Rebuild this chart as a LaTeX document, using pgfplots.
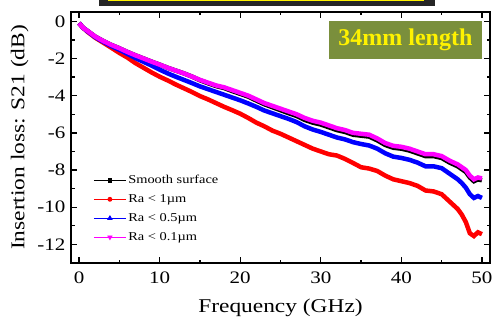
\documentclass[border=0pt]{standalone}
\usepackage{fontspec}
\setmainfont{Liberation Serif}[FakeStretch=1.2]
\newfontfamily\boxfont{Liberation Serif}
\usepackage{pgfplots}
\usepackage{pgfplotstable}
\pgfplotsset{compat=1.18}
\usetikzlibrary{calc}
\definecolor{boxgreen}{HTML}{7A8F3C}
\definecolor{darkbox}{HTML}{262626}
\definecolor{mag}{HTML}{FF00FF}

\pgfplotstableread{
f s r b m
0 -0.10 -0.10 -0.10 -0.10
0.5 -0.35 -0.35 -0.35 -0.35
1 -0.50 -0.55 -0.52 -0.50
2 -0.82 -0.88 -0.85 -0.82
3 -1.06 -1.15 -1.10 -1.06
4 -1.27 -1.42 -1.33 -1.27
5 -1.45 -1.70 -1.53 -1.45
6 -1.65 -1.95 -1.75 -1.65
7 -1.83 -2.25 -1.98 -1.83
8 -2.00 -2.50 -2.18 -2.00
9 -2.17 -2.75 -2.38 -2.17
10 -2.33 -2.98 -2.60 -2.33
11 -2.50 -3.18 -2.80 -2.50
12 -2.65 -3.40 -2.98 -2.65
13 -2.80 -3.60 -3.15 -2.80
14 -2.97 -3.80 -3.32 -2.97
15 -3.17 -4.02 -3.50 -3.15
16 -3.33 -4.20 -3.65 -3.30
17 -3.48 -4.40 -3.80 -3.45
18 -3.59 -4.60 -3.95 -3.55
19 -3.75 -4.78 -4.10 -3.70
20 -3.90 -4.97 -4.25 -3.85
21 -4.05 -5.20 -4.42 -4.00
22 -4.26 -5.45 -4.60 -4.20
23 -4.46 -5.65 -4.80 -4.40
24 -4.62 -5.88 -4.95 -4.55
25 -4.78 -6.05 -5.10 -4.70
26 -4.94 -6.25 -5.25 -4.85
27 -5.09 -6.45 -5.42 -5.00
28 -5.30 -6.65 -5.65 -5.20
29 -5.45 -6.85 -5.82 -5.35
30 -5.55 -7.00 -5.95 -5.45
31 -5.70 -7.15 -6.10 -5.60
32 -5.85 -7.22 -6.25 -5.75
33 -5.95 -7.40 -6.35 -5.85
34 -6.10 -7.62 -6.50 -6.00
35 -6.15 -7.85 -6.60 -6.05
36 -6.20 -7.92 -6.68 -6.10
37 -6.40 -8.05 -6.85 -6.30
38 -6.65 -8.30 -7.10 -6.55
39 -6.80 -8.50 -7.28 -6.70
40 -6.85 -8.60 -7.35 -6.75
41 -6.95 -8.70 -7.45 -6.85
42 -7.10 -8.85 -7.60 -7.00
43 -7.25 -9.10 -7.80 -7.15
44 -7.25 -9.15 -7.80 -7.15
45 -7.35 -9.30 -7.90 -7.25
46 -7.60 -9.70 -8.20 -7.50
47 -7.80 -10.10 -8.50 -7.70
47.5 -7.95 -10.40 -8.70 -7.85
48 -8.10 -10.80 -8.95 -8.00
48.5 -8.40 -11.40 -9.30 -8.30
49 -8.60 -11.55 -9.50 -8.50
49.5 -8.50 -11.35 -9.40 -8.40
50 -8.55 -11.45 -9.50 -8.45
}\datatable

\begin{document}
\begin{tikzpicture}
\begin{axis}[
  scale only axis, width=419bp, height=251bp,
  xmin=-1, xmax=51, ymin=-13, ymax=0.5,
  xtick={0,10,...,50}, minor xtick={5,15,...,45},
  ytick={-12,-10,...,0}, minor ytick={-13,-11,...,-1},
  tick align=inside,
  major tick length=6bp, minor tick length=3.5bp,
  tick style={line width=1.3bp, black},
  axis line style={line width=1.6bp},
  ticklabel style={font=\fontsize{17.5bp}{20bp}\selectfont},
  xticklabel style={yshift=-5bp},
  yticklabel style={xshift=-2bp},
  /pgf/number format/assume math mode=true,
  xlabel={Frequency (GHz)}, ylabel={Insertion loss: S21 (dB)},
  label style={font=\fontsize{19.5bp}{22bp}\selectfont},
  xlabel style={yshift=-9bp},
  ylabel style={yshift=2bp},
  legend style={at={(axis cs:1.4,-8.05)}, anchor=north west, draw=none, fill=none,
    font=\fontsize{12bp}{14bp}\selectfont, row sep=5.5bp},
  legend cell align=left,
  legend image code/.code={\draw[mark repeat=2,mark phase=2] plot coordinates {(0bp,0bp) (16bp,0bp) (32bp,0bp)};},
]
\addlegendimage{black, line width=0.8bp, mark=square*, mark size=1.8bp}
\addlegendentry{Smooth surface}
\addlegendimage{red, line width=0.8bp, mark=*, mark size=2bp}
\addlegendentry{Ra < 1µm}
\addlegendimage{blue, line width=0.8bp, mark=triangle*, mark size=2.4bp}
\addlegendentry{Ra < 0.5µm}
\addlegendimage{mag, line width=0.8bp, mark=triangle*, mark options={rotate=180}, mark size=2.4bp}
\addlegendentry{Ra < 0.1µm}

\addplot[black, line width=4.5bp, forget plot] table[x=f, y=s] {\datatable};
\addplot[red, line width=4.5bp, forget plot] table[x=f, y=r] {\datatable};
\addplot[blue, line width=4.5bp, forget plot] table[x=f, y=b] {\datatable};
\addplot[mag, line width=4.5bp, forget plot] table[x=f, y=m] {\datatable};

\fill[boxgreen] (axis cs:31,0) rectangle (axis cs:50,-2.05);
\node[text=yellow, font=\boxfont\bfseries\fontsize{24bp}{26bp}\selectfont] at (axis cs:40.5,-1.02) {34mm length};
\end{axis}
\fill[darkbox] ($(current axis.north west)+(28bp,12bp)$) rectangle ($(current axis.north west)+(364bp,6bp)$);
\fill[yellow] ($(current axis.north west)+(37bp,12bp)$) rectangle ($(current axis.north west)+(353bp,10.6bp)$);
\pgfresetboundingbox
\path ($(current axis.south west)+(-71bp,-60bp)$) rectangle ($(current axis.north east)+(2bp,12bp)$);
\end{tikzpicture}
\end{document}
